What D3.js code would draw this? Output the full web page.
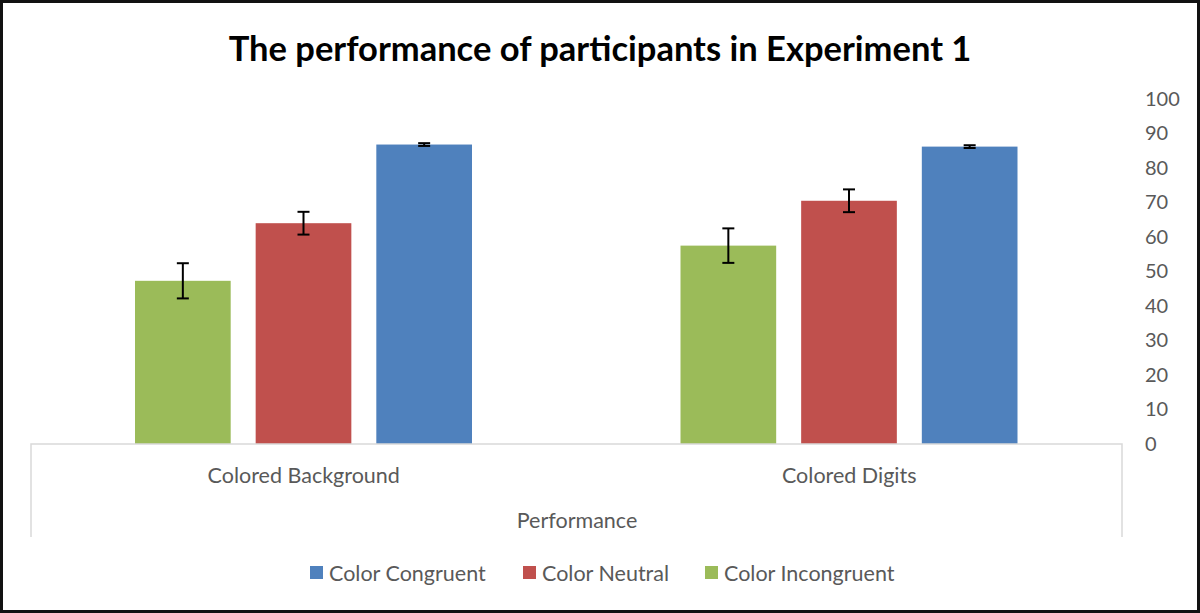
<!DOCTYPE html>
<html>
<head>
<meta charset="utf-8">
<script src="https://cdn.jsdelivr.net/npm/d3@7/dist/d3.min.js"></script>
<style>
  body { margin: 0; background: #fff; }
  text { font-family: Lato, "Open Sans", sans-serif; }
</style>
</head>
<body>
<svg id="chart"></svg>
<script>
// data
let categories = ["Colored Background", "Colored Digits"]
let seriesNames = ["Color Incongruent", "Color Neutral", "Color Congruent"]
let incongruent = [47.3, 57.5]
let neutral = [64.0, 70.5]
let congruent = [86.8, 86.2]
let incongruentErr = [5.1, 5.0]
let neutralErr = [3.3, 3.3]
let congruentErr = [0.4, 0.4]
let yTicks = [0, 10, 20, 30, 40, 50, 60, 70, 80, 90, 100]
let legendOrder = ["Color Congruent", "Color Neutral", "Color Incongruent"]

let colors = {
  "Color Incongruent": "#9bbb59",
  "Color Neutral": "#c0504d",
  "Color Congruent": "#4f81bd"
}

let width = 1200
let height = 613
let svg = d3.select("#chart").attr("width", width).attr("height", height)

// outer frame
svg.append("rect")
   .attr("x", 1.5).attr("y", 1.5)
   .attr("width", width - 3).attr("height", height - 3)
   .attr("fill", "#fff")
   .attr("stroke", "#111").attr("stroke-width", 3)

let plotLeft = 31
let plotRight = 1122
let plotTop = 99
let plotBottom = 444

let xScale = d3.scaleBand()
               .domain(categories)
               .range([plotLeft, plotRight])
               .paddingInner(0).paddingOuter(0)

let subScale = d3.scaleBand()
                 .domain(seriesNames)
                 .range([104, 441])
                 .paddingInner(0.207)

let yScale = d3.scaleLinear()
               .domain([0, 100])
               .range([plotBottom, plotTop])

// build rows for bars
let rows = []
categories.forEach((c, i) => {
  rows.push({cat: c, s: "Color Incongruent", v: incongruent[i], e: incongruentErr[i]})
  rows.push({cat: c, s: "Color Neutral", v: neutral[i], e: neutralErr[i]})
  rows.push({cat: c, s: "Color Congruent", v: congruent[i], e: congruentErr[i]})
})

svg.selectAll("rect.bar")
   .data(rows)
   .enter()
   .append("rect")
   .attr("class", "bar")
   .attr("x", d => xScale(d.cat) + subScale(d.s))
   .attr("y", d => yScale(d.v))
   .attr("width", subScale.bandwidth())
   .attr("height", d => yScale(0) - yScale(d.v))
   .attr("fill", d => colors[d.s])

// error bars
let errG = svg.append("g").attr("stroke", "#000").attr("stroke-width", 2)
rows.forEach(d => {
  let cx = xScale(d.cat) + subScale(d.s) + subScale.bandwidth() / 2
  let y1 = yScale(d.v + d.e)
  let y2 = yScale(d.v - d.e)
  errG.append("line").attr("x1", cx).attr("x2", cx).attr("y1", y1).attr("y2", y2)
  errG.append("line").attr("x1", cx - 6).attr("x2", cx + 6).attr("y1", y1).attr("y2", y1)
  errG.append("line").attr("x1", cx - 6).attr("x2", cx + 6).attr("y1", y2).attr("y2", y2)
})

// category axis box
let boxBottom = 537
svg.append("path")
   .attr("d", "M" + plotLeft + "," + boxBottom + "V" + plotBottom + "H" + plotRight + "V" + boxBottom)
   .attr("fill", "none").attr("stroke", "#d9d9d9").attr("stroke-width", 1.5)

svg.selectAll("text.cat")
   .data(categories)
   .enter()
   .append("text")
   .attr("class", "cat")
   .attr("x", d => xScale(d) + xScale.bandwidth() / 2)
   .attr("y", 483)
   .attr("text-anchor", "middle")
   .attr("font-size", 21.5)
   .attr("fill", "#595959")
   .text(d => d)

svg.append("text")
   .attr("x", 577).attr("y", 528)
   .attr("text-anchor", "middle")
   .attr("font-size", 21.5)
   .attr("fill", "#595959")
   .text("Performance")

// right y axis
let yAxis = d3.axisRight(yScale).tickValues(yTicks).tickSize(0).tickPadding(0)
let yG = svg.append("g")
   .attr("transform", "translate(1145,0)")
   .call(yAxis)
yG.select(".domain").remove()
yG.selectAll("text")
  .attr("font-size", 20)
  .attr("fill", "#595959")
  .attr("font-family", "Lato, 'Open Sans', sans-serif")

// title
svg.append("text")
   .attr("x", 600).attr("y", 61)
   .attr("text-anchor", "middle")
   .attr("font-size", 34.5)
   .attr("font-weight", "bold")
   .attr("fill", "#000")
   .text("The performance of participants in Experiment 1")

// legend
let legendX = [310, 523, 705]
let legend = svg.append("g")
legendOrder.forEach((name, i) => {
  legend.append("rect")
        .attr("x", legendX[i]).attr("y", 566)
        .attr("width", 13).attr("height", 13)
        .attr("fill", colors[name])
  legend.append("text")
        .attr("x", legendX[i] + 19).attr("y", 581)
        .attr("font-size", 21.5)
        .attr("fill", "#595959")
        .text(name)
})
</script>
</body>
</html>
